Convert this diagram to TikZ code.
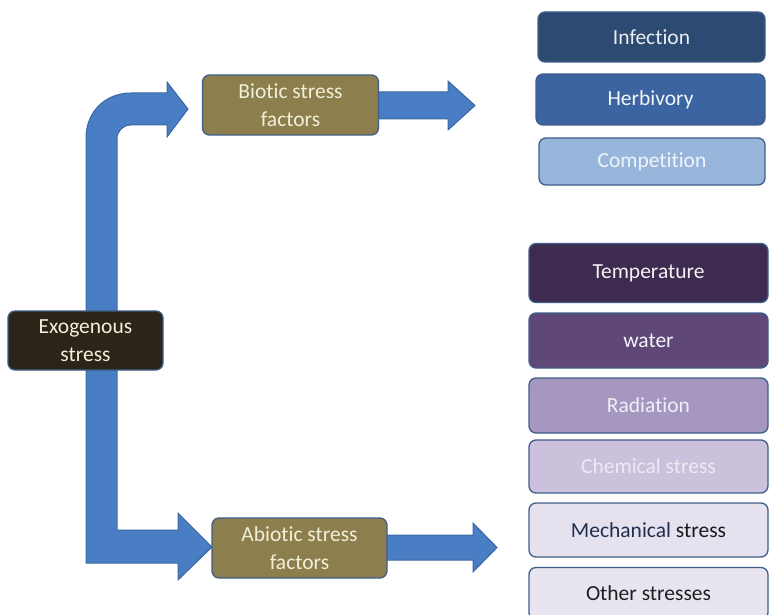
\documentclass[tikz,border=0pt]{standalone}
\usepackage{fontspec}
\setmainfont{Carlito}[Ligatures=NoCommon]
\definecolor{arrowfill}{HTML}{4A7EC4}
\definecolor{arrowline}{HTML}{3C68A4}
\definecolor{boxline}{HTML}{3F5E8A}
\definecolor{olive}{HTML}{8C7F4D}
\definecolor{olivetext}{HTML}{F2EFD9}
\definecolor{exofill}{HTML}{2A2419}
\definecolor{cInf}{HTML}{2D4B72}
\definecolor{cHerb}{HTML}{3B64A0}
\definecolor{cComp}{HTML}{98B5DB}
\definecolor{cTemp}{HTML}{3D2B50}
\definecolor{cWat}{HTML}{5F4878}
\definecolor{cRad}{HTML}{A597C0}
\definecolor{cChem}{HTML}{CBC1DC}
\definecolor{cMech}{HTML}{E6E1EE}
\definecolor{cOth}{HTML}{E9E5F0}
\definecolor{navytext}{HTML}{1F3050}
\tikzset{
  box/.style={draw=boxline, line width=1.3pt, rounded corners=7pt, align=center,
    font=\fontsize{21.5}{27.5}\selectfont, inner sep=0pt},
  blockarrow/.style={fill=arrowfill, draw=arrowline, line width=1pt, line join=miter},
  catbox/.style={box, fill=olive, text=olivetext, minimum width=176pt, minimum height=60pt},
  rbox/.style={box, minimum height=53pt}
}
\begin{document}
\begin{tikzpicture}[x=1pt,y=-1pt]
\useasboundingbox (0,0) rectangle (769,615);
% block arrows
\draw[blockarrow] (86,340) -- (86,138) .. controls (86,112) and (105,93) .. (131,93) -- (167,93) -- (167,82) -- (188,109)
  -- (167,137) -- (167,125) -- (131,125) .. controls (123,125) and (117,131) .. (117,139) -- (117,340) -- cycle;
\draw[blockarrow] (86,345) -- (86,563) -- (178,563) -- (178,580) -- (212,547) -- (178,513) -- (178,530)
  -- (117,530) -- (117,345) -- cycle;
\draw[blockarrow] (375,92) -- (448,92) -- (448,81) -- (475,105.5) -- (448,130) -- (448,119) -- (375,119) -- cycle;
\draw[blockarrow] (383,535) -- (473,535) -- (473,523) -- (497,547.5) -- (473,572) -- (473,560) -- (383,560) -- cycle;
% main boxes
\node[box, fill=exofill, text=olivetext, minimum width=155pt, minimum height=59pt] (exo) at (85.5,340.5) {Exogenous\\stress};
\node[catbox] (biotic) at (290.5,105) {Biotic stress\\factors};
\node[catbox, minimum width=175pt] (abiotic) at (299.5,548) {Abiotic stress\\factors};
% biotic list
\node[rbox, fill=cInf, text=white!90!cInf, minimum width=227pt, minimum height=50pt] (inf) at (651.5,37) {Infection};
\node[rbox, fill=cHerb, text=white!94!cHerb, minimum width=229pt, minimum height=51pt] (herb) at (650.5,99.5) {Herbivory};
\node[rbox, fill=cComp, text=white!85!cComp, minimum width=226pt, minimum height=47pt] (comp) at (652,161.5) {Competition};
% abiotic list
\node[rbox, fill=cTemp, text=white!94!cTemp, minimum width=239pt, minimum height=59pt] (temp) at (648.5,273) {Temperature};
\node[rbox, fill=cWat, text=white!94!cWat, minimum width=239pt, minimum height=55pt] (wat) at (648.5,340.5) {water};
\node[rbox, fill=cRad, text=white!85!cRad, minimum width=239pt, minimum height=55pt] (rad) at (648.5,405.5) {Radiation};
\node[rbox, fill=cChem, text=white!65!cChem, minimum width=239pt, minimum height=53pt] (chem) at (648.5,466.5) {Chemical stress};
\node[rbox, fill=cMech, text=black!90, minimum width=239pt, minimum height=54pt] (mech) at (648.5,530) {\textcolor{navytext}{Mechanical} stress};
\node[rbox, fill=cOth, text=black!88, minimum width=239pt, minimum height=52pt] (oth) at (648.5,593.5) {Other stresses};
\end{tikzpicture}
\end{document}
